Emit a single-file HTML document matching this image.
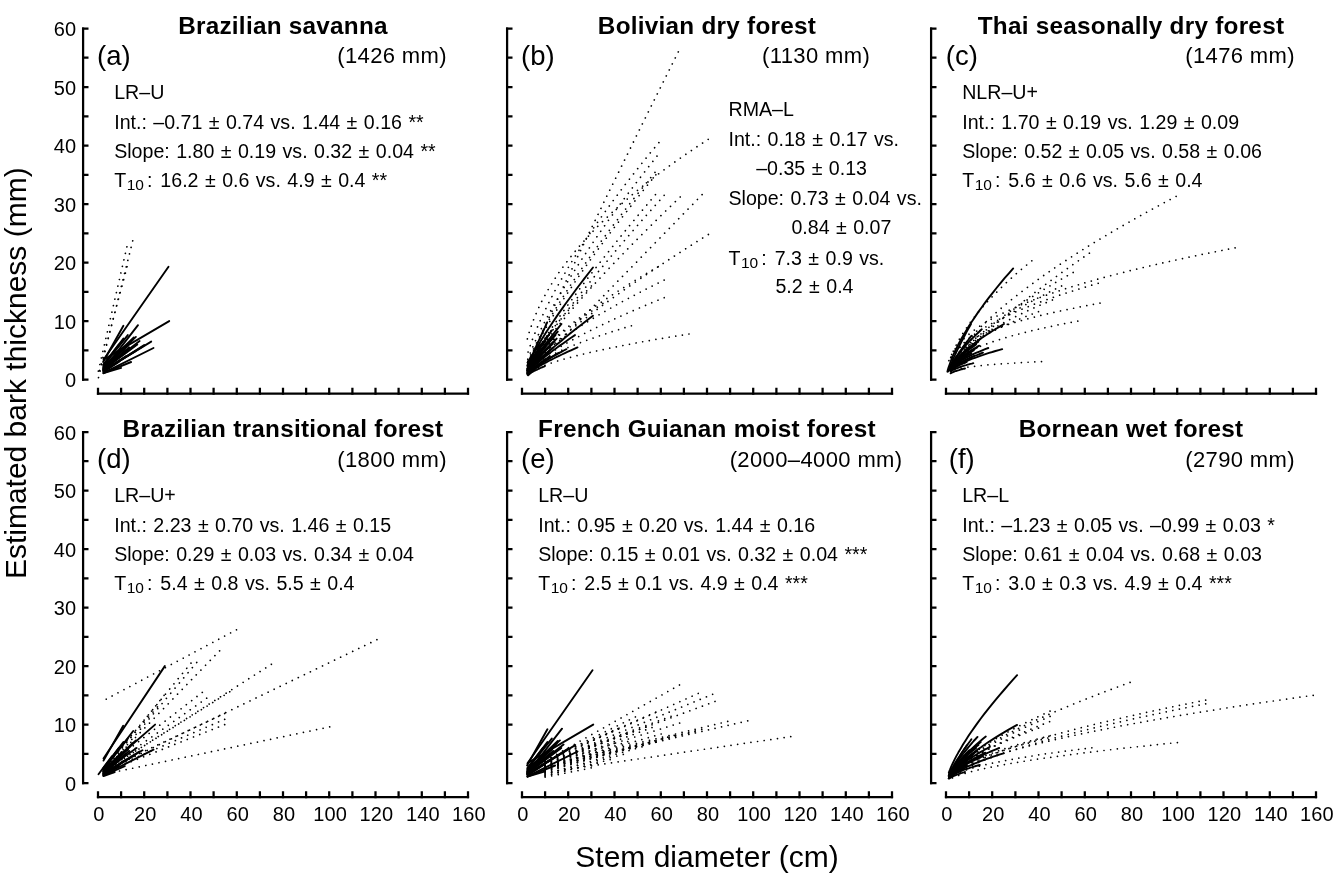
<!DOCTYPE html>
<html><head><meta charset="utf-8"><title>Bark thickness</title>
<style>html,body{margin:0;padding:0;background:#fff}svg{display:block;filter:grayscale(1)}text{font-family:"Liberation Sans", sans-serif;fill:#000}.tk{font-size:20px;letter-spacing:0.15px}.ti{font-size:24.3px;font-weight:bold;letter-spacing:0.26px}.pl{font-size:27.5px}.rf{font-size:22px;letter-spacing:0.38px}.an{font-size:19.6px;word-spacing:1.0px}.sub{font-size:15.5px}.ax{font-size:30px}</style></head><body>
<svg width="1336" height="875" viewBox="0 0 1336 875">
<rect width="1336" height="875" fill="#fff"/>
<g fill="none" stroke="#000" stroke-width="1.7" stroke-linecap="round" stroke-dasharray="0.01 6.7">
<polyline points="132.7,240.9 98.0,379.6"/>
<polyline points="126.9,246.8 98.0,372.6"/>
<polyline points="127.1,266.7 98.5,374.3"/>
</g>
<g fill="none" stroke="#000" stroke-width="1.9" stroke-linecap="round" stroke-linejoin="round">
<polyline points="103.5,359.7 168.5,266.7"/>
<polyline points="104.0,359.4 169.2,321.1"/>
<polyline points="103.1,362.0 123.4,325.8"/>
<polyline points="103.5,369.7 138.0,325.2"/>
<polyline points="103.5,366.7 135.9,336.9"/>
<polyline points="103.5,370.8 151.2,341.6"/>
<polyline points="103.5,372.9 153.5,348.0"/>
<polyline points="103.5,370.2 142.4,346.8"/>
<polyline points="103.5,367.9 136.6,344.5"/>
<polyline points="103.5,373.2 131.1,362.0"/>
<polyline points="103.5,373.2 121.1,367.9"/>
<polyline points="103.5,365.6 127.8,335.1"/>
<polyline points="103.5,366.1 133.8,337.5"/>
<polyline points="103.5,368.5 130.4,342.7"/>
<polyline points="103.5,367.3 128.1,345.7"/>
<polyline points="103.5,369.7 125.8,350.3"/>
<polyline points="103.5,368.5 121.1,349.2"/>
<polyline points="103.5,365.0 118.8,344.5"/>
<polyline points="103.5,371.4 125.8,356.2"/>
<polyline points="103.5,372.0 118.8,362.0"/>
<polyline points="103.5,367.9 132.7,339.8"/>
<polyline points="103.5,369.1 129.2,347.4"/>
<polyline points="103.5,370.2 123.4,353.3"/>
<polyline points="103.5,364.4 123.4,338.6"/>
<polyline points="103.5,370.8 135.0,351.5"/>
<polyline points="103.5,369.1 139.6,341.0"/>
<polyline points="103.5,369.7 137.3,344.5"/>
<polyline points="103.5,371.1 144.2,345.1"/>
</g>
<g stroke="#000" stroke-width="2.25" fill="none" stroke-linecap="butt">
<path d="M83.1 27.4 V380.7"/>
<path d="M82.0 379.6 h6.5 M82.0 350.3 h6.5 M82.0 321.1 h6.5 M82.0 291.8 h6.5 M82.0 262.6 h6.5 M82.0 233.3 h6.5 M82.0 204.0 h6.5 M82.0 174.8 h6.5 M82.0 145.5 h6.5 M82.0 116.3 h6.5 M82.0 87.0 h6.5 M82.0 57.7 h6.5 M82.0 28.5 h6.5"/>
<path d="M96.9 393.6 H469.1"/>
<path d="M98.0 394.7 v-6.9 M121.1 394.7 v-6.9 M144.2 394.7 v-6.9 M167.4 394.7 v-6.9 M190.5 394.7 v-6.9 M213.6 394.7 v-6.9 M236.8 394.7 v-6.9 M259.9 394.7 v-6.9 M283.0 394.7 v-6.9 M306.1 394.7 v-6.9 M329.2 394.7 v-6.9 M352.4 394.7 v-6.9 M375.5 394.7 v-6.9 M398.6 394.7 v-6.9 M421.8 394.7 v-6.9 M444.9 394.7 v-6.9 M468.0 394.7 v-6.9"/>
</g>
<text x="76.4" y="387.2" text-anchor="end" class="tk">0</text>
<text x="76.4" y="328.7" text-anchor="end" class="tk">10</text>
<text x="76.4" y="270.2" text-anchor="end" class="tk">20</text>
<text x="76.4" y="211.6" text-anchor="end" class="tk">30</text>
<text x="76.4" y="153.1" text-anchor="end" class="tk">40</text>
<text x="76.4" y="94.6" text-anchor="end" class="tk">50</text>
<text x="76.4" y="36.1" text-anchor="end" class="tk">60</text>
<text x="283.0" y="33.6" text-anchor="middle" class="ti">Brazilian savanna</text>
<text x="113.8" y="65.2" text-anchor="middle" class="pl">(a)</text>
<text x="392.1" y="63.3" text-anchor="middle" class="rf">(1426 mm)</text>
<text x="114.2" y="98.9" class="an">LR–U</text>
<text x="114.2" y="128.5" class="an">Int.: –0.71 ± 0.74 vs. 1.44 ± 0.16 **</text>
<text x="114.2" y="157.7" class="an">Slope: 1.80 ± 0.19 vs. 0.32 ± 0.04 **</text>
<text x="114.2" y="186.7" class="an">T<tspan class="sub" dx="0.5" dy="3.2">10</tspan><tspan dy="-3.2" dx="3.0">:</tspan><tspan dx="8.0">16.2 ± 0.6 vs. 4.9 ± 0.4 **</tspan></text>
<g fill="none" stroke="#000" stroke-width="1.7" stroke-linecap="round" stroke-dasharray="0.01 6.7">
<polyline points="678.3,51.9 668.4,71.7 658.7,91.1 649.3,110.0 640.1,128.5 631.2,146.5 622.6,164.0 614.3,181.0 606.2,197.4 598.5,213.4 591.1,228.8 583.9,243.6 577.1,257.8 570.7,271.5 564.5,284.4 558.8,296.8 553.4,308.4 548.3,319.2 543.8,329.3 539.6,338.5 535.9,346.7 532.7,353.9 530.2,359.8 528.3,364.2 527.3,366.4"/>
<polyline points="708.2,139.4 696.3,147.2 684.7,155.1 673.4,163.0 662.4,171.0 651.8,179.0 641.4,187.2 631.5,195.4 621.8,203.7 612.6,212.0 603.7,220.5 595.1,229.0 587.0,237.7 579.2,246.4 571.9,255.3 565.0,264.2 558.5,273.2 552.5,282.4 547.0,291.6 542.0,300.8 537.6,310.0 533.8,319.1 530.7,327.6 528.4,334.9 527.3,339.0"/>
<polyline points="658.9,142.6 650.2,153.0 641.8,163.4 633.6,173.8 625.6,184.0 617.9,194.3 610.4,204.4 603.1,214.5 596.1,224.4 589.3,234.3 582.9,244.1 576.7,253.8 570.7,263.4 565.1,272.9 559.7,282.2 554.7,291.3 550.0,300.3 545.6,309.1 541.6,317.5 538.0,325.7 534.8,333.4 532.0,340.5 529.8,346.8 528.1,351.8 527.3,354.4"/>
<polyline points="657.0,156.1 648.5,166.9 640.2,177.6 632.1,188.2 624.2,198.7 616.6,209.1 609.2,219.3 602.0,229.4 595.1,239.4 588.5,249.2 582.1,258.8 576.0,268.3 570.1,277.6 564.6,286.7 559.3,295.5 554.3,304.2 549.7,312.6 545.4,320.6 541.4,328.4 537.9,335.7 534.7,342.5 532.0,348.7 529.8,354.1 528.1,358.3 527.3,360.5"/>
<polyline points="655.0,172.4 646.6,182.7 638.4,192.9 630.4,202.9 622.7,212.9 615.2,222.6 607.9,232.3 600.8,241.8 594.0,251.2 587.5,260.4 581.2,269.4 575.2,278.2 569.4,286.9 564.0,295.4 558.8,303.6 553.9,311.6 549.3,319.3 545.1,326.7 541.2,333.8 537.7,340.5 534.6,346.7 531.9,352.3 529.7,357.1 528.1,360.9 527.3,362.8"/>
<polyline points="655.9,174.8 647.4,185.2 639.2,195.5 631.2,205.7 623.4,215.7 615.8,225.5 608.5,235.2 601.4,244.8 594.5,254.2 587.9,263.4 581.6,272.4 575.5,281.2 569.7,289.9 564.2,298.2 559.0,306.4 554.1,314.3 549.5,321.9 545.2,329.2 541.3,336.1 537.8,342.6 534.6,348.6 531.9,354.0 529.7,358.7 528.1,362.3 527.3,364.1"/>
<polyline points="655.4,194.7 647.0,204.7 638.8,214.5 630.8,224.1 623.0,233.6 615.5,242.9 608.2,252.1 601.1,261.0 594.3,269.8 587.7,278.3 581.4,286.6 575.4,294.8 569.6,302.6 564.1,310.2 558.9,317.6 554.0,324.7 549.4,331.4 545.2,337.9 541.3,343.9 537.7,349.6 534.6,354.7 531.9,359.3 529.7,363.2 528.1,366.1 527.3,367.6"/>
<polyline points="664.2,195.3 655.2,205.4 646.4,215.3 637.9,225.0 629.6,234.6 621.5,244.0 613.7,253.2 606.2,262.2 598.9,271.0 591.9,279.6 585.1,287.9 578.6,296.1 572.5,304.0 566.6,311.6 561.1,318.9 555.8,326.0 550.9,332.7 546.4,339.1 542.2,345.2 538.4,350.8 535.1,355.9 532.2,360.4 529.9,364.3 528.2,367.2 527.3,368.7"/>
<polyline points="680.2,197.0 670.1,206.7 660.3,216.3 650.8,225.7 641.5,234.9 632.5,244.0 623.8,253.0 615.4,261.7 607.2,270.3 599.4,278.7 591.8,287.0 584.6,295.0 577.7,302.8 571.2,310.3 565.0,317.7 559.1,324.8 553.7,331.5 548.6,338.0 544.0,344.2 539.7,349.9 536.0,355.2 532.8,359.9 530.2,364.0 528.3,367.1 527.3,368.7"/>
<polyline points="702.1,194.7 690.6,206.5 679.4,218.0 668.5,229.2 657.9,240.1 647.6,250.6 637.7,260.9 628.0,270.8 618.7,280.3 609.7,289.5 601.1,298.4 592.9,306.9 585.0,314.9 577.5,322.6 570.4,329.9 563.7,336.8 557.5,343.2 551.7,349.1 546.3,354.6 541.5,359.6 537.3,363.9 533.6,367.7 530.6,370.8 528.4,373.0 527.3,374.1"/>
<polyline points="708.4,234.5 696.5,241.9 684.9,249.3 673.6,256.6 662.6,263.8 651.9,270.9 641.6,277.8 631.6,284.7 622.0,291.4 612.7,298.0 603.8,304.5 595.2,310.9 587.0,317.1 579.3,323.1 571.9,329.0 565.0,334.7 558.5,340.2 552.5,345.5 547.0,350.5 542.0,355.2 537.6,359.6 533.8,363.6 530.7,367.1 528.4,369.8 527.3,371.2"/>
<polyline points="658.2,266.7 649.6,271.7 641.2,276.7 633.0,281.7 625.1,286.7 617.4,291.6 609.9,296.5 602.7,301.3 595.7,306.1 589.0,310.8 582.6,315.6 576.4,320.2 570.5,324.8 564.9,329.3 559.6,333.8 554.6,338.1 549.9,342.4 545.5,346.5 541.6,350.6 538.0,354.4 534.8,358.1 532.0,361.4 529.8,364.4 528.1,366.7 527.3,367.9"/>
<polyline points="664.2,280.1 655.2,284.6 646.4,289.0 637.9,293.4 629.6,297.8 621.5,302.1 613.7,306.4 606.2,310.7 598.9,314.9 591.9,319.1 585.1,323.3 578.6,327.4 572.5,331.4 566.6,335.4 561.1,339.3 555.8,343.2 550.9,347.0 546.4,350.7 542.2,354.2 538.4,357.6 535.1,360.9 532.2,363.8 529.9,366.5 528.2,368.5 527.3,369.6"/>
<polyline points="664.2,297.7 655.2,301.3 646.4,305.0 637.9,308.6 629.6,312.2 621.5,315.8 613.7,319.3 606.2,322.9 598.9,326.3 591.9,329.8 585.1,333.2 578.6,336.6 572.5,339.9 566.6,343.2 561.1,346.4 555.8,349.6 550.9,352.7 546.4,355.8 542.2,358.7 538.4,361.5 535.1,364.2 532.2,366.6 529.9,368.8 528.2,370.5 527.3,371.4"/>
<polyline points="631.4,325.8 624.5,327.8 617.9,329.9 611.4,331.9 605.1,334.0 598.9,336.0 593.0,338.1 587.3,340.1 581.7,342.2 576.4,344.2 571.2,346.2 566.3,348.3 561.6,350.3 557.2,352.3 553.0,354.4 549.0,356.4 545.3,358.3 541.8,360.3 538.6,362.2 535.8,364.1 533.2,365.9 531.1,367.5 529.3,369.0 528.0,370.2 527.3,370.8"/>
<polyline points="689.0,334.0 678.3,335.7 668.0,337.4 657.9,339.1 648.1,340.8 638.5,342.5 629.3,344.3 620.4,346.0 611.8,347.7 603.5,349.5 595.6,351.2 587.9,353.0 580.6,354.7 573.7,356.5 567.1,358.2 561.0,360.0 555.2,361.7 549.8,363.5 544.9,365.2 540.5,366.9 536.5,368.5 533.1,370.1 530.4,371.6 528.3,372.8 527.3,373.4"/>
<polyline points="591.4,286.0 587.2,290.3 583.1,294.5 579.1,298.7 575.2,302.9 571.4,307.0 567.7,311.1 564.2,315.1 560.8,319.0 557.5,322.9 554.4,326.8 551.3,330.5 548.4,334.2 545.7,337.8 543.1,341.2 540.7,344.6 538.4,347.9 536.2,351.0 534.3,354.0 532.5,356.8 531.0,359.4 529.6,361.7 528.5,363.7 527.7,365.2 527.3,366.0"/>
<polyline points="602.9,303.5 598.0,306.8 593.1,310.1 588.4,313.4 583.8,316.6 579.4,319.8 575.0,323.0 570.9,326.2 566.8,329.3 563.0,332.4 559.2,335.4 555.7,338.4 552.3,341.4 549.0,344.3 546.0,347.2 543.1,350.0 540.4,352.7 537.8,355.3 535.5,357.8 533.5,360.2 531.6,362.5 530.0,364.5 528.7,366.2 527.8,367.6 527.3,368.3"/>
</g>
<g fill="none" stroke="#000" stroke-width="1.9" stroke-linecap="round" stroke-linejoin="round">
<polyline points="527.5,365.0 528.0,364.2 528.8,362.5 529.9,360.3 531.3,357.6 532.9,354.6 534.7,351.4 536.7,347.9 538.8,344.2 541.2,340.3 543.7,336.2 546.3,332.0 549.1,327.7 552.1,323.2 555.2,318.6 558.4,313.9 561.8,309.1 565.2,304.2 568.9,299.2 572.6,294.2 576.4,289.0 580.4,283.7 584.5,278.4 588.7,273.0 593.0,267.5"/>
<polyline points="527.5,372.1 528.0,371.6 528.8,370.7 529.9,369.5 531.3,368.1 532.9,366.4 534.7,364.6 536.7,362.6 538.8,360.6 541.2,358.4 543.7,356.1 546.3,353.7 549.1,351.2 552.1,348.6 555.2,345.9 558.4,343.2 561.8,340.4 565.2,337.5 568.9,334.6 572.6,331.6 576.4,328.6 580.4,325.5 584.5,322.3 588.7,319.1 593.0,315.8"/>
<polyline points="527.5,372.3 527.8,372.0 528.4,371.4 529.3,370.5 530.2,369.6 531.4,368.4 532.7,367.2 534.2,365.9 535.7,364.5 537.4,363.0 539.2,361.5 541.2,359.9 543.2,358.2 545.3,356.5 547.6,354.8 549.9,353.0 552.3,351.1 554.9,349.2 557.5,347.3 560.2,345.4 563.0,343.4 565.8,341.4 568.8,339.3 571.8,337.2 575.0,335.1"/>
<polyline points="527.5,373.9 527.9,373.6 528.5,373.2 529.3,372.5 530.4,371.8 531.6,371.0 533.0,370.0 534.5,369.1 536.2,368.0 537.9,367.0 539.9,365.8 541.9,364.7 544.0,363.5 546.3,362.3 548.6,361.0 551.1,359.8 553.7,358.5 556.3,357.2 559.1,355.8 561.9,354.5 564.9,353.1 567.9,351.7 571.0,350.3 574.2,348.9 577.5,347.4"/>
<polyline points="527.5,373.2 527.8,373.0 528.3,372.6 528.9,372.0 529.8,371.4 530.7,370.6 531.8,369.8 533.0,368.9 534.2,368.0 535.6,367.0 537.1,366.0 538.7,365.0 540.4,363.9 542.1,362.8 544.0,361.7 545.9,360.5 547.9,359.3 549.9,358.1 552.1,356.9 554.3,355.6 556.6,354.4 558.9,353.1 561.4,351.8 563.8,350.5 566.4,349.2"/>
<polyline points="527.5,369.1 527.8,368.8 528.2,368.1 528.8,367.2 529.5,366.1 530.3,364.8 531.2,363.4 532.3,361.9 533.4,360.3 534.6,358.5 535.9,356.7 537.3,354.8 538.8,352.8 540.3,350.7 541.9,348.6 543.6,346.4 545.3,344.1 547.1,341.8 549.0,339.4 550.9,337.0 552.9,334.5 555.0,331.9 557.1,329.3 559.3,326.7 561.5,324.0"/>
<polyline points="527.5,366.0 527.7,365.7 527.9,365.1 528.3,364.3 528.7,363.4 529.1,362.3 529.7,361.0 530.3,359.7 530.9,358.2 531.6,356.6 532.4,354.9 533.2,353.1 534.0,351.2 534.9,349.2 535.8,347.1 536.8,345.0 537.8,342.7 538.9,340.4 540.0,338.0 541.1,335.6 542.2,333.1 543.4,330.5 544.7,327.8 545.9,325.1 547.2,322.3"/>
<polyline points="527.5,368.8 527.7,368.5 528.1,367.9 528.6,367.1 529.3,366.2 530.0,365.1 530.8,363.9 531.8,362.6 532.8,361.3 533.9,359.8 535.0,358.3 536.2,356.7 537.5,355.0 538.9,353.3 540.3,351.5 541.8,349.7 543.4,347.9 545.0,346.0 546.7,344.0 548.4,342.0 550.2,340.0 552.0,338.0 553.9,335.9 555.8,333.8 557.8,331.6"/>
<polyline points="527.5,368.8 527.7,368.5 528.0,368.0 528.4,367.3 528.9,366.4 529.5,365.4 530.2,364.2 530.9,363.0 531.7,361.7 532.6,360.2 533.5,358.7 534.5,357.1 535.6,355.4 536.7,353.7 537.8,351.9 539.0,350.0 540.2,348.0 541.5,346.0 542.9,344.0 544.3,341.8 545.7,339.7 547.2,337.4 548.7,335.1 550.2,332.8 551.8,330.4"/>
<polyline points="527.5,374.6 527.7,374.5 527.9,374.4 528.2,374.2 528.5,374.0 529.0,373.8 529.4,373.5 530.0,373.2 530.5,372.9 531.2,372.5 531.8,372.2 532.5,371.8 533.3,371.4 534.1,371.0 534.9,370.6 535.7,370.2 536.6,369.8 537.5,369.3 538.5,368.9 539.5,368.5 540.5,368.0 541.6,367.5 542.6,367.1 543.8,366.6 544.9,366.1"/>
<polyline points="527.5,370.3 527.7,370.1 528.1,369.7 528.5,369.1 529.1,368.3 529.7,367.5 530.5,366.6 531.3,365.6 532.2,364.5 533.1,363.4 534.2,362.2 535.2,361.0 536.4,359.7 537.6,358.4 538.9,357.0 540.2,355.6 541.6,354.2 543.0,352.7 544.5,351.2 546.0,349.7 547.6,348.1 549.2,346.5 550.9,344.9 552.6,343.2 554.4,341.6"/>
<polyline points="527.5,370.5 527.7,370.3 528.0,369.9 528.4,369.4 528.9,368.7 529.5,368.0 530.2,367.2 531.0,366.3 531.8,365.3 532.7,364.3 533.6,363.2 534.6,362.1 535.6,360.9 536.7,359.7 537.9,358.5 539.1,357.2 540.4,355.9 541.7,354.6 543.0,353.2 544.4,351.8 545.9,350.4 547.3,349.0 548.9,347.5 550.4,346.0 552.1,344.5"/>
<polyline points="527.5,371.5 527.7,371.4 528.0,371.0 528.3,370.6 528.8,370.1 529.4,369.5 530.0,368.8 530.6,368.1 531.4,367.3 532.2,366.5 533.0,365.6 533.9,364.7 534.9,363.8 535.9,362.8 536.9,361.8 538.0,360.8 539.2,359.7 540.3,358.6 541.6,357.5 542.8,356.3 544.1,355.2 545.5,354.0 546.9,352.8 548.3,351.6 549.8,350.3"/>
<polyline points="527.5,369.9 527.7,369.7 527.9,369.4 528.2,368.9 528.5,368.4 529.0,367.8 529.5,367.1 530.0,366.3 530.6,365.5 531.2,364.6 531.9,363.7 532.6,362.7 533.3,361.7 534.1,360.7 535.0,359.6 535.8,358.4 536.7,357.3 537.7,356.1 538.6,354.8 539.6,353.6 540.7,352.3 541.7,350.9 542.8,349.6 544.0,348.2 545.1,346.8"/>
<polyline points="527.5,368.2 527.6,368.0 527.8,367.7 528.1,367.2 528.4,366.6 528.8,365.9 529.2,365.2 529.7,364.3 530.2,363.4 530.7,362.5 531.3,361.4 531.9,360.4 532.6,359.2 533.3,358.0 534.0,356.8 534.7,355.5 535.5,354.2 536.3,352.8 537.2,351.4 538.1,350.0 539.0,348.5 539.9,346.9 540.8,345.4 541.8,343.8 542.8,342.1"/>
<polyline points="527.5,373.1 527.7,373.0 528.0,372.8 528.3,372.4 528.8,372.0 529.4,371.5 530.0,371.0 530.6,370.4 531.4,369.8 532.2,369.1 533.0,368.4 533.9,367.7 534.9,366.9 535.9,366.2 536.9,365.4 538.0,364.5 539.2,363.7 540.3,362.8 541.6,361.9 542.8,361.0 544.1,360.1 545.5,359.1 546.9,358.2 548.3,357.2 549.8,356.2"/>
<polyline points="527.5,373.5 527.6,373.4 527.8,373.3 528.1,373.0 528.4,372.7 528.8,372.4 529.2,372.1 529.7,371.7 530.2,371.3 530.7,370.8 531.3,370.4 531.9,369.9 532.6,369.4 533.3,368.9 534.0,368.3 534.7,367.7 535.5,367.2 536.3,366.6 537.2,366.0 538.1,365.3 539.0,364.7 539.9,364.1 540.8,363.4 541.8,362.7 542.8,362.0"/>
<polyline points="527.5,370.1 527.7,369.9 528.1,369.4 528.6,368.7 529.2,367.9 529.9,367.0 530.7,366.0 531.6,364.9 532.6,363.8 533.6,362.5 534.7,361.2 535.9,359.9 537.2,358.5 538.5,357.0 539.9,355.5 541.3,354.0 542.8,352.4 544.3,350.8 545.9,349.2 547.6,347.5 549.3,345.8 551.1,344.0 552.9,342.3 554.8,340.5 556.7,338.6"/>
<polyline points="527.5,371.5 527.7,371.3 528.0,371.0 528.5,370.5 529.0,369.9 529.6,369.2 530.3,368.4 531.1,367.6 532.0,366.7 532.9,365.7 533.9,364.7 534.9,363.7 536.0,362.6 537.2,361.5 538.4,360.4 539.7,359.2 541.0,358.0 542.3,356.8 543.7,355.5 545.2,354.2 546.7,352.9 548.3,351.6 549.9,350.2 551.5,348.8 553.2,347.4"/>
<polyline points="527.5,372.4 527.7,372.2 527.9,372.0 528.3,371.6 528.7,371.1 529.2,370.6 529.7,370.0 530.3,369.4 531.0,368.7 531.7,368.0 532.5,367.2 533.3,366.4 534.1,365.6 535.0,364.7 535.9,363.8 536.9,362.9 537.9,361.9 539.0,360.9 540.1,359.9 541.2,358.8 542.4,357.8 543.6,356.7 544.9,355.6 546.1,354.4 547.4,353.3"/>
<polyline points="527.5,368.4 527.7,368.2 527.9,367.8 528.3,367.2 528.7,366.4 529.2,365.6 529.7,364.6 530.3,363.5 531.0,362.4 531.7,361.2 532.5,359.9 533.3,358.5 534.1,357.1 535.0,355.6 535.9,354.0 536.9,352.4 537.9,350.8 539.0,349.1 540.1,347.3 541.2,345.5 542.4,343.6 543.6,341.7 544.9,339.7 546.1,337.7 547.4,335.7"/>
<polyline points="527.5,373.7 527.7,373.5 528.1,373.2 528.7,372.8 529.3,372.2 530.1,371.6 531.0,370.9 531.9,370.2 533.0,369.4 534.1,368.6 535.3,367.7 536.6,366.8 537.9,365.9 539.3,364.9 540.8,363.9 542.4,362.9 544.0,361.8 545.7,360.8 547.4,359.7 549.2,358.6 551.0,357.4 552.9,356.3 554.9,355.1 556.9,353.9 559.0,352.7"/>
<polyline points="527.5,370.0 527.7,369.7 528.1,369.2 528.6,368.5 529.1,367.7 529.8,366.7 530.6,365.6 531.4,364.4 532.4,363.2 533.4,361.9 534.4,360.4 535.6,359.0 536.8,357.4 538.0,355.8 539.4,354.2 540.7,352.5 542.2,350.7 543.7,348.9 545.2,347.1 546.8,345.2 548.5,343.2 550.1,341.3 551.9,339.3 553.7,337.2 555.5,335.1"/>
<polyline points="527.5,369.9 527.7,369.6 528.0,369.2 528.4,368.6 528.9,367.8 529.5,367.0 530.2,366.0 531.0,365.0 531.8,363.8 532.7,362.6 533.6,361.4 534.6,360.1 535.6,358.7 536.7,357.2 537.9,355.8 539.1,354.2 540.4,352.7 541.7,351.0 543.0,349.4 544.4,347.7 545.9,345.9 547.3,344.2 548.9,342.4 550.4,340.5 552.1,338.6"/>
<polyline points="528.0,372.8 528.1,372.7 528.2,372.5 528.5,372.2 528.7,371.9 529.0,371.5 529.4,371.1 529.8,370.6 530.2,370.1 530.6,369.5 531.1,368.9 531.6,368.2 532.1,367.5 532.7,366.8 533.3,366.0 533.9,365.2 534.5,364.3 535.2,363.4 535.9,362.5 536.6,361.6 537.3,360.5 538.1,359.5 538.9,358.4 539.7,357.3 540.5,356.2"/>
<polyline points="528.0,375.3 528.1,375.3 528.2,375.2 528.4,375.0 528.6,374.8 528.8,374.6 529.1,374.4 529.4,374.1 529.8,373.8 530.1,373.5 530.5,373.1 530.9,372.7 531.4,372.3 531.8,371.9 532.3,371.4 532.8,370.9 533.3,370.4 533.9,369.9 534.4,369.4 535.0,368.8 535.6,368.2 536.2,367.6 536.9,366.9 537.5,366.2 538.2,365.6"/>
<polyline points="527.5,365.6 527.7,365.4 527.9,365.0 528.2,364.5 528.5,363.9 529.0,363.2 529.5,362.4 530.0,361.5 530.6,360.6 531.2,359.6 531.9,358.6 532.6,357.6 533.3,356.5 534.1,355.4 535.0,354.2 535.8,353.1 536.7,351.9 537.7,350.6 538.6,349.4 539.6,348.1 540.7,346.8 541.7,345.5 542.8,344.2 544.0,342.9 545.1,341.6"/>
<polyline points="527.5,362.5 527.6,362.4 527.8,362.1 528.0,361.7 528.3,361.2 528.6,360.7 529.0,360.1 529.4,359.4 529.8,358.7 530.2,358.0 530.7,357.2 531.3,356.4 531.8,355.6 532.4,354.7 533.0,353.9 533.7,353.0 534.3,352.1 535.0,351.2 535.7,350.2 536.5,349.3 537.2,348.4 538.0,347.4 538.8,346.4 539.6,345.5 540.5,344.5"/>
</g>
<g stroke="#000" stroke-width="2.25" fill="none" stroke-linecap="butt">
<path d="M507.1 27.4 V380.7"/>
<path d="M506.0 379.6 h6.5 M506.0 350.3 h6.5 M506.0 321.1 h6.5 M506.0 291.8 h6.5 M506.0 262.6 h6.5 M506.0 233.3 h6.5 M506.0 204.0 h6.5 M506.0 174.8 h6.5 M506.0 145.5 h6.5 M506.0 116.3 h6.5 M506.0 87.0 h6.5 M506.0 57.7 h6.5 M506.0 28.5 h6.5"/>
<path d="M520.9 393.6 H893.1"/>
<path d="M522.0 394.7 v-6.9 M545.1 394.7 v-6.9 M568.2 394.7 v-6.9 M591.4 394.7 v-6.9 M614.5 394.7 v-6.9 M637.6 394.7 v-6.9 M660.8 394.7 v-6.9 M683.9 394.7 v-6.9 M707.0 394.7 v-6.9 M730.1 394.7 v-6.9 M753.2 394.7 v-6.9 M776.4 394.7 v-6.9 M799.5 394.7 v-6.9 M822.6 394.7 v-6.9 M845.8 394.7 v-6.9 M868.9 394.7 v-6.9 M892.0 394.7 v-6.9"/>
</g>
<text x="707.0" y="33.6" text-anchor="middle" class="ti">Bolivian dry forest</text>
<text x="537.8" y="65.2" text-anchor="middle" class="pl">(b)</text>
<text x="816.1" y="63.3" text-anchor="middle" class="rf">(1130 mm)</text>
<text x="728.5" y="116.3" class="an">RMA–L</text>
<text x="728.5" y="145.8" class="an">Int.: 0.18 ± 0.17 vs.</text>
<text x="756.2" y="175.2" class="an">–0.35 ± 0.13</text>
<text x="728.5" y="204.9" class="an">Slope: 0.73 ± 0.04 vs.</text>
<text x="791.4" y="233.7" class="an">0.84 ± 0.07</text>
<text x="728.5" y="265.1" class="an">T<tspan class="sub" dx="0.5" dy="3.2">10</tspan><tspan dy="-3.2" dx="3.0">:</tspan><tspan dx="8.0">7.3 ± 0.9 vs.</tspan></text>
<text x="775.4" y="292.9" class="an">5.2 ± 0.4</text>
<g fill="none" stroke="#000" stroke-width="1.7" stroke-linecap="round" stroke-dasharray="0.01 6.7">
<polyline points="1176.1,196.4 1161.1,204.4 1146.6,212.3 1132.4,220.2 1118.6,228.1 1105.2,236.0 1092.2,243.8 1079.7,251.6 1067.6,259.4 1055.9,267.1 1044.7,274.8 1034.0,282.5 1023.8,290.1 1014.0,297.7 1004.8,305.2 996.1,312.6 988.0,320.0 980.4,327.3 973.5,334.5 967.3,341.6 961.7,348.5 956.9,355.1 953.0,361.3 950.2,366.6 948.8,369.7"/>
<polyline points="1235.1,247.9 1216.2,251.6 1197.9,255.3 1180.0,259.1 1162.6,263.0 1145.8,266.9 1129.5,270.8 1113.7,274.9 1098.4,279.0 1083.7,283.2 1069.6,287.4 1056.1,291.8 1043.2,296.3 1030.9,300.9 1019.3,305.6 1008.4,310.5 998.1,315.5 988.6,320.7 979.9,326.1 972.0,331.7 965.1,337.6 959.1,343.8 954.1,350.2 950.5,356.6 948.8,360.9"/>
<polyline points="1031.8,260.8 1026.3,265.3 1021.0,269.7 1015.8,274.2 1010.8,278.7 1005.9,283.1 1001.2,287.6 996.6,292.2 992.2,296.7 987.9,301.2 983.8,305.7 979.9,310.3 976.2,314.8 972.6,319.4 969.2,323.9 966.1,328.5 963.1,333.0 960.3,337.5 957.8,342.0 955.5,346.4 953.5,350.7 951.8,354.8 950.3,358.6 949.3,361.7 948.8,363.4"/>
<polyline points="1100.0,303.2 1090.1,305.0 1080.4,306.9 1070.9,308.8 1061.7,310.7 1052.8,312.7 1044.2,314.6 1035.9,316.7 1027.8,318.8 1020.1,320.9 1012.6,323.1 1005.5,325.4 998.7,327.7 992.2,330.1 986.0,332.6 980.3,335.1 974.9,337.8 969.8,340.6 965.2,343.5 961.1,346.5 957.4,349.7 954.2,353.0 951.6,356.4 949.7,359.6 948.8,361.6"/>
<polyline points="1077.8,321.1 1069.3,322.7 1061.0,324.3 1053.0,326.0 1045.2,327.7 1037.6,329.4 1030.2,331.1 1023.1,332.9 1016.2,334.7 1009.6,336.5 1003.2,338.4 997.2,340.3 991.3,342.2 985.8,344.2 980.6,346.2 975.6,348.3 971.0,350.5 966.7,352.7 962.8,355.0 959.3,357.3 956.1,359.7 953.4,362.1 951.2,364.6 949.6,366.7 948.8,368.0"/>
<polyline points="1041.5,361.6 1035.4,361.9 1029.5,362.2 1023.8,362.5 1018.2,362.8 1012.8,363.2 1007.6,363.5 1002.5,363.8 997.6,364.2 992.9,364.6 988.3,364.9 984.0,365.3 979.8,365.7 975.9,366.2 972.1,366.6 968.6,367.1 965.3,367.5 962.3,368.1 959.5,368.6 957.0,369.1 954.7,369.7 952.8,370.3 951.2,370.9 950.0,371.5 949.5,371.8"/>
<polyline points="1089.4,253.2 1080.1,259.6 1071.1,265.9 1062.3,272.2 1053.8,278.4 1045.5,284.5 1037.5,290.5 1029.8,296.5 1022.3,302.3 1015.1,308.1 1008.1,313.8 1001.5,319.3 995.2,324.8 989.1,330.1 983.4,335.3 978.0,340.3 973.0,345.2 968.4,349.9 964.1,354.5 960.2,358.8 956.8,362.8 953.8,366.5 951.4,369.8 949.6,372.4 948.8,373.8"/>
<polyline points="1098.2,283.3 1088.3,286.2 1078.7,289.1 1069.4,292.0 1060.4,294.9 1051.6,297.9 1043.1,301.0 1034.8,304.0 1026.9,307.2 1019.2,310.3 1011.8,313.6 1004.8,316.9 998.1,320.2 991.7,323.6 985.6,327.1 979.9,330.6 974.5,334.3 969.6,338.0 965.0,341.8 960.9,345.7 957.3,349.8 954.1,353.8 951.6,357.9 949.7,361.5 948.8,363.7"/>
<polyline points="1073.2,272.5 1065.0,277.1 1057.0,281.7 1049.3,286.3 1041.7,290.8 1034.4,295.4 1027.3,299.9 1020.4,304.4 1013.8,308.9 1007.4,313.4 1001.3,317.8 995.4,322.2 989.8,326.6 984.5,330.9 979.4,335.3 974.7,339.5 970.2,343.8 966.1,347.9 962.3,352.0 958.9,356.0 955.9,359.8 953.2,363.4 951.1,366.8 949.5,369.5 948.8,371.0"/>
<polyline points="1061.6,286.0 1054.2,289.6 1047.0,293.3 1039.9,297.0 1033.1,300.6 1026.4,304.3 1020.0,308.0 1013.8,311.6 1007.8,315.3 1002.0,319.0 996.4,322.7 991.1,326.4 986.0,330.1 981.2,333.8 976.6,337.4 972.3,341.1 968.2,344.8 964.5,348.4 961.1,352.0 957.9,355.6 955.2,359.1 952.8,362.5 950.9,365.6 949.5,368.2 948.8,369.6"/>
<polyline points="1052.4,300.0 1045.6,302.9 1038.9,305.7 1032.4,308.6 1026.2,311.5 1020.1,314.4 1014.2,317.3 1008.4,320.2 1002.9,323.2 997.6,326.1 992.5,329.1 987.6,332.1 983.0,335.1 978.5,338.1 974.3,341.2 970.3,344.2 966.6,347.3 963.2,350.4 960.0,353.5 957.2,356.5 954.7,359.6 952.5,362.5 950.7,365.3 949.4,367.6 948.8,368.9"/>
<polyline points="1038.5,311.7 1032.6,313.9 1026.8,316.1 1021.2,318.4 1015.8,320.6 1010.5,322.9 1005.4,325.2 1000.5,327.5 995.7,329.9 991.1,332.2 986.7,334.6 982.4,337.0 978.4,339.4 974.5,341.9 970.9,344.4 967.5,346.9 964.2,349.5 961.3,352.0 958.5,354.6 956.1,357.2 953.9,359.8 952.0,362.3 950.5,364.7 949.3,366.7 948.8,367.8"/>
</g>
<g fill="none" stroke="#000" stroke-width="1.9" stroke-linecap="round" stroke-linejoin="round">
<polyline points="947.4,371.7 947.8,370.1 948.6,367.3 949.8,364.0 951.1,360.3 952.7,356.3 954.5,352.2 956.6,348.0 958.7,343.7 961.1,339.3 963.6,334.9 966.3,330.4 969.1,325.8 972.1,321.2 975.2,316.6 978.4,311.9 981.8,307.2 985.3,302.4 988.9,297.6 992.7,292.8 996.5,288.0 1000.5,283.1 1004.6,278.2 1008.9,273.3 1013.2,268.4"/>
<polyline points="949.5,369.3 949.8,368.8 950.5,367.6 951.4,366.2 952.6,364.6 953.9,362.8 955.4,360.9 957.1,359.0 958.9,357.1 960.8,355.1 962.9,353.1 965.1,351.0 967.5,349.0 969.9,346.9 972.5,344.9 975.2,342.8 978.0,340.7 980.9,338.6 983.9,336.5 987.0,334.5 990.2,332.4 993.5,330.3 997.0,328.2 1000.5,326.1 1004.0,324.0"/>
<polyline points="950.6,370.9 950.9,370.6 951.6,370.0 952.5,369.3 953.6,368.4 954.8,367.5 956.2,366.6 957.8,365.7 959.5,364.7 961.4,363.7 963.3,362.7 965.4,361.7 967.6,360.7 970.0,359.7 972.4,358.7 974.9,357.8 977.6,356.8 980.3,355.8 983.2,354.9 986.1,353.9 989.1,352.9 992.3,352.0 995.5,351.0 998.8,350.1 1002.2,349.2"/>
<polyline points="950.6,369.2 950.9,368.9 951.3,368.4 952.0,367.7 952.8,367.0 953.7,366.1 954.7,365.2 955.9,364.3 957.1,363.4 958.5,362.4 959.9,361.5 961.4,360.5 963.1,359.5 964.8,358.6 966.5,357.6 968.4,356.6 970.3,355.6 972.3,354.7 974.4,353.7 976.6,352.7 978.8,351.8 981.1,350.8 983.4,349.9 985.8,348.9 988.3,348.0"/>
<polyline points="949.5,368.6 949.7,368.2 950.1,367.4 950.6,366.3 951.3,365.1 952.1,363.7 953.0,362.2 954.0,360.6 955.1,359.0 956.2,357.4 957.4,355.6 958.8,353.9 960.1,352.1 961.6,350.3 963.1,348.4 964.7,346.6 966.4,344.7 968.1,342.8 969.9,340.9 971.7,339.0 973.7,337.1 975.6,335.1 977.6,333.2 979.7,331.2 981.8,329.3"/>
<polyline points="950.6,368.1 950.8,367.9 951.2,367.4 951.7,366.8 952.3,366.1 953.0,365.3 953.7,364.4 954.6,363.5 955.6,362.5 956.6,361.5 957.7,360.5 958.9,359.5 960.1,358.5 961.4,357.4 962.7,356.4 964.1,355.3 965.6,354.2 967.1,353.2 968.7,352.1 970.4,351.0 972.0,349.9 973.8,348.9 975.6,347.8 977.4,346.7 979.3,345.7"/>
<polyline points="950.6,371.5 950.8,371.4 951.1,371.3 951.4,371.0 951.9,370.7 952.5,370.4 953.1,370.0 953.8,369.7 954.5,369.3 955.3,368.9 956.2,368.5 957.1,368.2 958.1,367.8 959.1,367.4 960.2,367.0 961.3,366.6 962.5,366.2 963.7,365.8 964.9,365.4 966.2,365.1 967.6,364.7 968.9,364.3 970.3,363.9 971.8,363.6 973.3,363.2"/>
<polyline points="950.6,373.3 950.7,373.2 950.9,373.1 951.1,373.0 951.4,372.9 951.8,372.7 952.2,372.5 952.6,372.3 953.1,372.1 953.6,371.9 954.2,371.7 954.7,371.4 955.4,371.2 956.0,371.0 956.7,370.8 957.4,370.5 958.1,370.3 958.9,370.1 959.7,369.8 960.5,369.6 961.3,369.4 962.2,369.2 963.1,368.9 964.0,368.7 965.0,368.5"/>
<polyline points="948.3,371.3 948.5,370.9 948.7,370.1 949.1,369.1 949.6,367.8 950.2,366.4 950.8,364.8 951.5,363.1 952.2,361.3 953.0,359.4 953.9,357.5 954.8,355.4 955.8,353.3 956.8,351.2 957.9,348.9 959.0,346.6 960.2,344.3 961.4,341.9 962.6,339.5 963.9,337.0 965.2,334.5 966.6,331.9 968.0,329.3 969.5,326.7 971.0,324.0"/>
<polyline points="950.6,367.8 950.8,367.5 951.1,367.0 951.6,366.3 952.2,365.5 952.9,364.6 953.6,363.6 954.5,362.6 955.4,361.5 956.4,360.4 957.5,359.2 958.6,358.0 959.8,356.8 961.0,355.6 962.3,354.4 963.7,353.1 965.1,351.9 966.6,350.6 968.1,349.3 969.7,348.0 971.4,346.8 973.0,345.5 974.8,344.2 976.5,342.9 978.4,341.6"/>
<polyline points="950.6,368.2 950.8,367.9 951.1,367.5 951.5,366.9 952.1,366.2 952.7,365.3 953.4,364.5 954.2,363.5 955.0,362.6 955.9,361.5 956.9,360.5 957.9,359.4 959.0,358.4 960.2,357.2 961.4,356.1 962.6,355.0 963.9,353.9 965.3,352.7 966.7,351.5 968.1,350.4 969.6,349.2 971.2,348.0 972.8,346.9 974.4,345.7 976.1,344.5"/>
<polyline points="950.6,368.7 950.8,368.5 951.1,368.1 951.5,367.6 951.9,367.1 952.5,366.4 953.1,365.7 953.8,365.0 954.6,364.2 955.4,363.4 956.3,362.6 957.3,361.8 958.3,360.9 959.3,360.1 960.4,359.2 961.5,358.3 962.7,357.5 963.9,356.6 965.2,355.7 966.5,354.8 967.9,353.9 969.3,353.0 970.7,352.1 972.2,351.2 973.8,350.3"/>
<polyline points="950.6,368.1 950.7,367.9 951.0,367.5 951.3,367.0 951.7,366.4 952.1,365.8 952.6,365.0 953.2,364.2 953.8,363.4 954.5,362.5 955.2,361.6 955.9,360.7 956.7,359.7 957.6,358.7 958.4,357.7 959.3,356.7 960.3,355.6 961.3,354.6 962.3,353.5 963.4,352.4 964.4,351.3 965.6,350.2 966.7,349.1 967.9,348.0 969.1,346.8"/>
<polyline points="949.5,369.8 949.6,369.6 949.8,369.2 950.1,368.5 950.5,367.8 950.9,367.0 951.4,366.1 951.9,365.1 952.5,364.0 953.1,362.9 953.7,361.8 954.4,360.6 955.2,359.3 956.0,358.0 956.8,356.7 957.6,355.4 958.5,354.0 959.5,352.6 960.4,351.2 961.4,349.7 962.4,348.2 963.5,346.7 964.6,345.2 965.7,343.7 966.8,342.1"/>
<polyline points="950.6,370.0 950.8,369.9 951.1,369.6 951.5,369.2 951.9,368.8 952.5,368.3 953.1,367.7 953.8,367.2 954.6,366.6 955.4,365.9 956.3,365.3 957.3,364.7 958.3,364.0 959.3,363.4 960.4,362.7 961.5,362.1 962.7,361.4 963.9,360.8 965.2,360.1 966.5,359.5 967.9,358.8 969.3,358.2 970.7,357.5 972.2,356.8 973.8,356.2"/>
<polyline points="950.6,370.7 950.7,370.6 950.9,370.4 951.2,370.2 951.5,369.9 951.9,369.6 952.4,369.3 952.9,368.9 953.4,368.6 954.0,368.2 954.6,367.8 955.3,367.4 956.0,367.0 956.7,366.6 957.5,366.2 958.3,365.8 959.1,365.4 959.9,364.9 960.8,364.5 961.8,364.1 962.7,363.7 963.7,363.3 964.7,362.9 965.7,362.5 966.8,362.0"/>
<polyline points="950.6,368.5 950.8,368.3 951.2,367.7 951.7,366.9 952.3,366.0 953.1,365.0 953.9,363.9 954.8,362.8 955.8,361.6 956.9,360.3 958.0,359.0 959.3,357.7 960.5,356.3 961.9,354.9 963.3,353.5 964.8,352.1 966.3,350.6 967.9,349.2 969.6,347.7 971.3,346.2 973.1,344.7 974.9,343.2 976.8,341.7 978.7,340.2 980.7,338.6"/>
<polyline points="950.6,368.3 950.8,368.1 951.1,367.7 951.6,367.1 952.1,366.4 952.8,365.7 953.5,364.9 954.3,364.0 955.2,363.2 956.2,362.2 957.2,361.3 958.3,360.4 959.4,359.4 960.6,358.4 961.9,357.4 963.2,356.4 964.5,355.4 965.9,354.4 967.4,353.4 968.9,352.4 970.5,351.4 972.1,350.4 973.8,349.4 975.5,348.4 977.2,347.4"/>
<polyline points="950.6,369.3 950.8,369.1 951.0,368.8 951.4,368.4 951.8,367.9 952.3,367.4 952.9,366.8 953.5,366.1 954.2,365.5 955.0,364.8 955.8,364.1 956.6,363.3 957.5,362.6 958.4,361.8 959.4,361.1 960.4,360.3 961.5,359.5 962.6,358.8 963.8,358.0 964.9,357.2 966.2,356.4 967.4,355.6 968.7,354.8 970.1,354.1 971.4,353.3"/>
<polyline points="949.5,369.8 949.6,369.5 949.9,368.9 950.3,368.1 950.7,367.2 951.3,366.2 951.9,365.0 952.5,363.8 953.3,362.5 954.0,361.1 954.9,359.7 955.8,358.2 956.7,356.7 957.7,355.1 958.7,353.5 959.8,351.8 961.0,350.1 962.1,348.4 963.3,346.7 964.6,344.9 965.9,343.1 967.2,341.3 968.6,339.5 970.0,337.6 971.4,335.7"/>
<polyline points="950.6,370.1 950.8,369.9 951.2,369.5 951.8,369.0 952.5,368.3 953.3,367.7 954.1,367.0 955.1,366.2 956.2,365.5 957.4,364.7 958.6,363.9 959.9,363.1 961.3,362.3 962.8,361.5 964.3,360.7 965.9,359.9 967.5,359.1 969.3,358.3 971.1,357.4 972.9,356.6 974.8,355.8 976.8,355.1 978.8,354.3 980.9,353.5 983.0,352.7"/>
</g>
<g stroke="#000" stroke-width="2.25" fill="none" stroke-linecap="butt">
<path d="M931.1 27.4 V380.7"/>
<path d="M930.0 379.6 h6.5 M930.0 350.3 h6.5 M930.0 321.1 h6.5 M930.0 291.8 h6.5 M930.0 262.6 h6.5 M930.0 233.3 h6.5 M930.0 204.0 h6.5 M930.0 174.8 h6.5 M930.0 145.5 h6.5 M930.0 116.3 h6.5 M930.0 87.0 h6.5 M930.0 57.7 h6.5 M930.0 28.5 h6.5"/>
<path d="M944.9 393.6 H1317.1"/>
<path d="M946.0 394.7 v-6.9 M969.1 394.7 v-6.9 M992.2 394.7 v-6.9 M1015.4 394.7 v-6.9 M1038.5 394.7 v-6.9 M1061.6 394.7 v-6.9 M1084.8 394.7 v-6.9 M1107.9 394.7 v-6.9 M1131.0 394.7 v-6.9 M1154.1 394.7 v-6.9 M1177.2 394.7 v-6.9 M1200.4 394.7 v-6.9 M1223.5 394.7 v-6.9 M1246.6 394.7 v-6.9 M1269.8 394.7 v-6.9 M1292.9 394.7 v-6.9 M1316.0 394.7 v-6.9"/>
</g>
<text x="1131.0" y="33.6" text-anchor="middle" class="ti">Thai seasonally dry forest</text>
<text x="961.8" y="65.2" text-anchor="middle" class="pl">(c)</text>
<text x="1240.1" y="63.3" text-anchor="middle" class="rf">(1476 mm)</text>
<text x="962.2" y="98.9" class="an">NLR–U+</text>
<text x="962.2" y="128.5" class="an">Int.: 1.70 ± 0.19 vs. 1.29 ± 0.09</text>
<text x="962.2" y="157.7" class="an">Slope: 0.52 ± 0.05 vs. 0.58 ± 0.06</text>
<text x="962.2" y="186.7" class="an">T<tspan class="sub" dx="0.5" dy="3.2">10</tspan><tspan dy="-3.2" dx="3.0">:</tspan><tspan dx="8.0">5.6 ± 0.6 vs. 5.6 ± 0.4</tspan></text>
<g fill="none" stroke="#000" stroke-width="1.7" stroke-linecap="round" stroke-dasharray="0.01 6.7">
<polyline points="236.5,629.8 104.6,700.0"/>
<polyline points="376.9,639.7 103.8,771.4"/>
<polyline points="271.4,664.3 103.8,771.4"/>
<polyline points="219.6,650.8 103.8,770.2"/>
<polyline points="196.7,662.5 103.8,772.6"/>
<polyline points="191.0,663.1 103.8,769.1"/>
<polyline points="202.3,692.4 103.8,768.5"/>
<polyline points="224.7,713.5 103.8,770.2"/>
<polyline points="224.7,719.3 103.8,771.4"/>
<polyline points="224.7,724.6 103.8,772.6"/>
<polyline points="329.7,726.9 103.8,774.3"/>
<polyline points="164.1,695.3 103.8,771.4"/>
<polyline points="157.4,707.0 103.8,768.5"/>
<polyline points="206.7,698.2 103.8,770.8"/>
<polyline points="229.8,691.8 107.2,769.1"/>
</g>
<g fill="none" stroke="#000" stroke-width="1.9" stroke-linecap="round" stroke-linejoin="round">
<polyline points="103.5,758.5 164.8,666.1"/>
<polyline points="103.5,769.6 155.1,724.6"/>
<polyline points="103.5,774.9 153.5,749.7"/>
<polyline points="103.5,769.6 133.2,731.0"/>
<polyline points="103.5,760.6 123.2,725.8"/>
<polyline points="103.5,773.7 139.4,751.5"/>
<polyline points="98.5,774.3 111.9,756.2"/>
<polyline points="103.5,776.1 114.7,772.0"/>
<polyline points="103.5,775.5 124.8,766.1"/>
<polyline points="103.5,770.2 135.9,740.4"/>
<polyline points="103.5,773.7 142.4,750.3"/>
<polyline points="103.5,771.4 136.6,748.0"/>
<polyline points="103.5,769.1 127.8,738.6"/>
<polyline points="103.5,772.0 130.4,746.2"/>
<polyline points="103.5,770.8 128.1,749.2"/>
<polyline points="103.5,773.2 125.8,753.8"/>
<polyline points="103.5,772.0 121.1,752.7"/>
<polyline points="103.5,768.5 118.8,748.0"/>
<polyline points="103.5,774.9 125.8,759.7"/>
<polyline points="103.5,775.5 118.8,765.5"/>
<polyline points="103.5,771.4 132.7,743.3"/>
<polyline points="103.5,772.6 129.2,750.9"/>
<polyline points="103.5,773.7 123.4,756.8"/>
<polyline points="103.5,767.9 123.4,742.1"/>
<polyline points="103.5,774.3 135.0,755.0"/>
</g>
<g stroke="#000" stroke-width="2.25" fill="none" stroke-linecap="butt">
<path d="M83.1 430.9 V784.2"/>
<path d="M82.0 783.1 h6.5 M82.0 753.8 h6.5 M82.0 724.6 h6.5 M82.0 695.3 h6.5 M82.0 666.1 h6.5 M82.0 636.8 h6.5 M82.0 607.5 h6.5 M82.0 578.3 h6.5 M82.0 549.0 h6.5 M82.0 519.8 h6.5 M82.0 490.5 h6.5 M82.0 461.2 h6.5 M82.0 432.0 h6.5"/>
<path d="M96.9 797.1 H469.1"/>
<path d="M98.0 798.2 v-6.9 M121.1 798.2 v-6.9 M144.2 798.2 v-6.9 M167.4 798.2 v-6.9 M190.5 798.2 v-6.9 M213.6 798.2 v-6.9 M236.8 798.2 v-6.9 M259.9 798.2 v-6.9 M283.0 798.2 v-6.9 M306.1 798.2 v-6.9 M329.2 798.2 v-6.9 M352.4 798.2 v-6.9 M375.5 798.2 v-6.9 M398.6 798.2 v-6.9 M421.8 798.2 v-6.9 M444.9 798.2 v-6.9 M468.0 798.2 v-6.9"/>
</g>
<text x="76.4" y="790.7" text-anchor="end" class="tk">0</text>
<text x="76.4" y="732.2" text-anchor="end" class="tk">10</text>
<text x="76.4" y="673.7" text-anchor="end" class="tk">20</text>
<text x="76.4" y="615.1" text-anchor="end" class="tk">30</text>
<text x="76.4" y="556.6" text-anchor="end" class="tk">40</text>
<text x="76.4" y="498.1" text-anchor="end" class="tk">50</text>
<text x="76.4" y="439.6" text-anchor="end" class="tk">60</text>
<text x="99.0" y="820.6" text-anchor="middle" class="tk">0</text>
<text x="145.2" y="820.6" text-anchor="middle" class="tk">20</text>
<text x="191.5" y="820.6" text-anchor="middle" class="tk">40</text>
<text x="237.8" y="820.6" text-anchor="middle" class="tk">60</text>
<text x="284.0" y="820.6" text-anchor="middle" class="tk">80</text>
<text x="330.2" y="820.6" text-anchor="middle" class="tk">100</text>
<text x="376.5" y="820.6" text-anchor="middle" class="tk">120</text>
<text x="422.8" y="820.6" text-anchor="middle" class="tk">140</text>
<text x="469.0" y="820.6" text-anchor="middle" class="tk">160</text>
<text x="283.0" y="437.1" text-anchor="middle" class="ti">Brazilian transitional forest</text>
<text x="113.8" y="467.5" text-anchor="middle" class="pl">(d)</text>
<text x="392.1" y="466.8" text-anchor="middle" class="rf">(1800 mm)</text>
<text x="114.2" y="502.4" class="an">LR–U+</text>
<text x="114.2" y="532.0" class="an">Int.: 2.23 ± 0.70 vs. 1.46 ± 0.15</text>
<text x="114.2" y="561.2" class="an">Slope: 0.29 ± 0.03 vs. 0.34 ± 0.04</text>
<text x="114.2" y="590.2" class="an">T<tspan class="sub" dx="0.5" dy="3.2">10</tspan><tspan dy="-3.2" dx="3.0">:</tspan><tspan dx="8.0">5.4 ± 0.8 vs. 5.5 ± 0.4</tspan></text>
<g fill="none" stroke="#000" stroke-width="1.7" stroke-linecap="round" stroke-dasharray="0.01 6.7">
<polyline points="545.1,760.9 683.0,683.0"/>
<polyline points="545.1,762.0 703.3,691.2"/>
<polyline points="545.1,763.2 717.2,692.4"/>
<polyline points="545.1,764.4 720.6,699.4"/>
<polyline points="545.1,767.9 754.2,719.3"/>
<polyline points="545.1,772.6 793.0,736.3"/>
<polyline points="545.1,765.5 734.1,719.9"/>
<polyline points="545.1,766.7 707.0,728.1"/>
<polyline points="545.1,760.3 660.8,710.0"/>
<polyline points="545.1,762.6 672.3,715.8"/>
<polyline points="545.1,765.0 683.9,721.7"/>
<polyline points="545.1,768.5 695.4,731.6"/>
<polyline points="545.1,770.2 660.8,741.0"/>
<polyline points="545.1,771.4 637.6,745.1"/>
<polyline points="545.1,763.8 649.2,725.8"/>
<polyline points="545.1,766.1 626.1,733.4"/>
<polyline points="545.1,769.1 614.5,743.3"/>
<polyline points="545.1,773.7 626.1,753.8"/>
<polyline points="545.1,761.4 637.6,715.8"/>
<polyline points="545.1,767.3 665.4,732.8"/>
<polyline points="545.1,777.2 591.4,767.9"/>
<polyline points="545.1,775.5 602.9,762.0"/>
<polyline points="545.1,774.3 642.2,746.8"/>
<polyline points="545.1,770.8 609.9,750.3"/>
<polyline points="545.1,769.6 633.0,739.8"/>
<polyline points="545.1,767.9 598.3,751.5"/>
<polyline points="545.1,765.5 586.8,750.3"/>
<polyline points="545.1,764.4 605.2,739.8"/>
<polyline points="545.1,763.2 619.1,728.1"/>
<polyline points="545.1,772.0 679.2,733.9"/>
<polyline points="545.1,767.3 653.8,726.9"/>
<polyline points="545.1,776.1 614.5,758.5"/>
</g>
<g fill="none" stroke="#000" stroke-width="1.9" stroke-linecap="round" stroke-linejoin="round">
<polyline points="527.5,763.2 592.5,670.2"/>
<polyline points="528.0,762.9 593.2,724.6"/>
<polyline points="527.1,765.5 547.4,729.3"/>
<polyline points="527.5,773.2 562.0,728.7"/>
<polyline points="527.5,770.2 559.9,740.4"/>
<polyline points="527.5,774.3 575.2,745.1"/>
<polyline points="527.5,776.4 577.5,751.5"/>
<polyline points="527.5,773.7 566.4,750.3"/>
<polyline points="527.5,771.4 560.6,748.0"/>
<polyline points="527.5,776.7 555.1,765.5"/>
<polyline points="527.5,776.7 545.1,771.4"/>
<polyline points="527.5,769.1 551.8,738.6"/>
<polyline points="527.5,769.6 557.8,741.0"/>
<polyline points="527.5,772.0 554.4,746.2"/>
<polyline points="527.5,770.8 552.1,749.2"/>
<polyline points="527.5,773.2 549.8,753.8"/>
<polyline points="527.5,772.0 545.1,752.7"/>
<polyline points="527.5,768.5 542.8,748.0"/>
<polyline points="527.5,774.9 549.8,759.7"/>
<polyline points="527.5,775.5 542.8,765.5"/>
<polyline points="527.5,771.4 556.7,743.3"/>
<polyline points="527.5,772.6 553.2,750.9"/>
<polyline points="527.5,773.7 547.4,756.8"/>
<polyline points="527.5,767.9 547.4,742.1"/>
<polyline points="527.5,774.3 559.0,755.0"/>
<polyline points="527.5,772.6 563.6,744.5"/>
<polyline points="527.5,773.2 561.3,748.0"/>
<polyline points="527.5,774.6 568.2,748.6"/>
</g>
<g stroke="#000" stroke-width="2.25" fill="none" stroke-linecap="butt">
<path d="M507.1 430.9 V784.2"/>
<path d="M506.0 783.1 h6.5 M506.0 753.8 h6.5 M506.0 724.6 h6.5 M506.0 695.3 h6.5 M506.0 666.1 h6.5 M506.0 636.8 h6.5 M506.0 607.5 h6.5 M506.0 578.3 h6.5 M506.0 549.0 h6.5 M506.0 519.8 h6.5 M506.0 490.5 h6.5 M506.0 461.2 h6.5 M506.0 432.0 h6.5"/>
<path d="M520.9 797.1 H893.1"/>
<path d="M522.0 798.2 v-6.9 M545.1 798.2 v-6.9 M568.2 798.2 v-6.9 M591.4 798.2 v-6.9 M614.5 798.2 v-6.9 M637.6 798.2 v-6.9 M660.8 798.2 v-6.9 M683.9 798.2 v-6.9 M707.0 798.2 v-6.9 M730.1 798.2 v-6.9 M753.2 798.2 v-6.9 M776.4 798.2 v-6.9 M799.5 798.2 v-6.9 M822.6 798.2 v-6.9 M845.8 798.2 v-6.9 M868.9 798.2 v-6.9 M892.0 798.2 v-6.9"/>
</g>
<text x="523.0" y="820.6" text-anchor="middle" class="tk">0</text>
<text x="569.2" y="820.6" text-anchor="middle" class="tk">20</text>
<text x="615.5" y="820.6" text-anchor="middle" class="tk">40</text>
<text x="661.8" y="820.6" text-anchor="middle" class="tk">60</text>
<text x="708.0" y="820.6" text-anchor="middle" class="tk">80</text>
<text x="754.2" y="820.6" text-anchor="middle" class="tk">100</text>
<text x="800.5" y="820.6" text-anchor="middle" class="tk">120</text>
<text x="846.8" y="820.6" text-anchor="middle" class="tk">140</text>
<text x="893.0" y="820.6" text-anchor="middle" class="tk">160</text>
<text x="707.0" y="437.1" text-anchor="middle" class="ti">French Guianan moist forest</text>
<text x="537.8" y="467.5" text-anchor="middle" class="pl">(e)</text>
<text x="816.1" y="466.8" text-anchor="middle" class="rf">(2000–4000 mm)</text>
<text x="538.2" y="502.4" class="an">LR–U</text>
<text x="538.2" y="532.0" class="an">Int.: 0.95 ± 0.20 vs. 1.44 ± 0.16</text>
<text x="538.2" y="561.2" class="an">Slope: 0.15 ± 0.01 vs. 0.32 ± 0.04 ***</text>
<text x="538.2" y="590.2" class="an">T<tspan class="sub" dx="0.5" dy="3.2">10</tspan><tspan dy="-3.2" dx="3.0">:</tspan><tspan dx="8.0">2.5 ± 0.1 vs. 4.9 ± 0.4 ***</tspan></text>
<g fill="none" stroke="#000" stroke-width="1.7" stroke-linecap="round" stroke-dasharray="0.01 6.7">
<polyline points="1130.1,682.4 1118.1,686.8 1106.5,691.1 1095.1,695.5 1084.1,699.8 1073.4,704.1 1063.0,708.4 1053.0,712.6 1043.3,716.9 1034.0,721.1 1025.0,725.3 1016.5,729.5 1008.3,733.7 1000.5,737.9 993.1,742.0 986.2,746.1 979.7,750.1 973.6,754.1 968.1,758.1 963.1,762.0 958.7,765.8 954.8,769.4 951.7,772.8 949.4,775.7 948.3,777.4"/>
<polyline points="1313.2,695.3 1289.2,698.7 1265.8,702.1 1243.0,705.5 1220.9,708.9 1199.4,712.3 1178.6,715.7 1158.5,719.2 1139.1,722.6 1120.3,726.1 1102.4,729.6 1085.1,733.1 1068.7,736.6 1053.0,740.2 1038.2,743.7 1024.3,747.3 1011.2,750.9 999.1,754.5 988.0,758.1 978.0,761.8 969.1,765.5 961.4,769.1 955.2,772.8 950.6,776.2 948.3,778.5"/>
<polyline points="1205.7,700.1 1188.8,703.5 1172.2,706.9 1156.2,710.3 1140.6,713.7 1125.4,717.1 1110.7,720.5 1096.5,723.9 1082.8,727.3 1069.6,730.7 1057.0,734.1 1044.8,737.5 1033.2,740.9 1022.2,744.3 1011.7,747.7 1001.9,751.1 992.7,754.5 984.2,757.8 976.3,761.2 969.2,764.5 963.0,767.8 957.6,771.1 953.1,774.2 949.9,777.0 948.3,778.7"/>
<polyline points="1205.7,703.8 1188.8,707.2 1172.2,710.6 1156.2,714.0 1140.6,717.3 1125.4,720.7 1110.7,724.1 1096.5,727.4 1082.8,730.7 1069.6,734.1 1057.0,737.4 1044.8,740.7 1033.2,744.0 1022.2,747.3 1011.7,750.5 1001.9,753.8 992.7,757.0 984.2,760.2 976.3,763.4 969.2,766.5 963.0,769.6 957.6,772.5 953.1,775.4 949.9,777.9 948.3,779.4"/>
<polyline points="1177.4,742.6 1162.3,744.1 1147.6,745.7 1133.3,747.2 1119.4,748.7 1105.9,750.3 1092.9,751.8 1080.2,753.4 1068.1,755.0 1056.3,756.6 1045.0,758.1 1034.2,759.7 1023.9,761.3 1014.1,762.9 1004.8,764.6 996.0,766.2 987.8,767.8 980.2,769.5 973.2,771.1 966.9,772.8 961.3,774.5 956.5,776.1 952.6,777.8 949.7,779.2 948.3,780.2"/>
<polyline points="1050.1,711.1 1043.4,714.2 1036.8,717.3 1030.5,720.4 1024.3,723.4 1018.3,726.5 1012.5,729.5 1006.9,732.6 1001.5,735.6 996.3,738.6 991.3,741.5 986.5,744.5 981.9,747.5 977.5,750.4 973.4,753.3 969.5,756.1 965.9,759.0 962.5,761.8 959.4,764.5 956.6,767.2 954.1,769.8 952.0,772.2 950.2,774.4 948.9,776.3 948.3,777.3"/>
<polyline points="1050.1,716.4 1043.4,719.3 1036.8,722.1 1030.5,725.0 1024.3,727.8 1018.3,730.6 1012.5,733.4 1006.9,736.2 1001.5,739.0 996.3,741.8 991.3,744.6 986.5,747.3 981.9,750.1 977.5,752.8 973.4,755.5 969.5,758.1 965.9,760.7 962.5,763.3 959.4,765.9 956.6,768.3 954.1,770.7 952.0,773.0 950.2,775.1 948.9,776.8 948.3,777.7"/>
<polyline points="1049.6,721.7 1042.9,724.3 1036.4,726.9 1030.1,729.5 1024.0,732.2 1018.0,734.8 1012.2,737.4 1006.6,739.9 1001.3,742.5 996.1,745.1 991.1,747.6 986.3,750.2 981.7,752.7 977.4,755.2 973.3,757.6 969.4,760.1 965.8,762.5 962.4,764.9 959.3,767.2 956.5,769.5 954.1,771.7 951.9,773.8 950.2,775.7 948.9,777.2 948.3,778.1"/>
<polyline points="1091.9,747.8 1082.5,749.0 1073.3,750.1 1064.3,751.3 1055.6,752.5 1047.1,753.7 1038.9,754.9 1031.0,756.2 1023.4,757.4 1016.0,758.7 1008.9,759.9 1002.2,761.2 995.7,762.5 989.5,763.8 983.7,765.2 978.2,766.5 973.1,767.9 968.3,769.3 963.9,770.7 960.0,772.2 956.5,773.6 953.5,775.1 951.0,776.6 949.2,777.9 948.3,778.7"/>
<polyline points="1050.1,735.7 1043.4,737.4 1036.8,739.2 1030.5,740.9 1024.3,742.7 1018.3,744.4 1012.5,746.2 1006.9,748.0 1001.5,749.8 996.3,751.6 991.3,753.4 986.5,755.2 981.9,757.0 977.5,758.8 973.4,760.7 969.5,762.5 965.9,764.4 962.5,766.2 959.4,768.1 956.6,769.9 954.1,771.8 952.0,773.5 950.2,775.2 948.9,776.7 948.3,777.5"/>
<polyline points="1047.8,738.0 1041.2,739.7 1034.8,741.3 1028.6,743.0 1022.6,744.7 1016.7,746.3 1011.1,748.0 1005.6,749.7 1000.3,751.4 995.2,753.1 990.3,754.8 985.6,756.5 981.1,758.3 976.9,760.0 972.8,761.7 969.0,763.5 965.5,765.3 962.2,767.0 959.1,768.8 956.4,770.5 954.0,772.3 951.9,774.0 950.2,775.6 948.9,776.9 948.3,777.7"/>
<polyline points="1038.5,728.1 1032.6,730.3 1026.8,732.5 1021.2,734.7 1015.7,737.0 1010.4,739.2 1005.2,741.4 1000.3,743.6 995.5,745.8 990.8,748.0 986.4,750.2 982.1,752.4 978.1,754.6 974.2,756.8 970.5,758.9 967.1,761.1 963.9,763.3 960.9,765.4 958.1,767.5 955.6,769.6 953.4,771.6 951.5,773.5 950.0,775.2 948.9,776.7 948.3,777.5"/>
</g>
<g fill="none" stroke="#000" stroke-width="1.9" stroke-linecap="round" stroke-linejoin="round">
<polyline points="948.8,772.7 949.2,771.5 950.1,769.4 951.2,766.6 952.7,763.5 954.3,760.1 956.2,756.4 958.3,752.6 960.6,748.7 963.0,744.6 965.6,740.4 968.4,736.1 971.3,731.8 974.4,727.4 977.6,722.9 981.0,718.3 984.5,713.7 988.1,709.1 991.9,704.4 995.8,699.6 999.8,694.8 1004.0,690.0 1008.2,685.1 1012.6,680.1 1017.1,675.2"/>
<polyline points="948.8,776.7 949.2,776.0 950.1,774.8 951.2,773.2 952.7,771.5 954.3,769.6 956.2,767.5 958.3,765.5 960.6,763.3 963.0,761.1 965.6,758.8 968.4,756.6 971.3,754.3 974.4,751.9 977.6,749.5 981.0,747.2 984.5,744.7 988.1,742.3 991.9,739.9 995.8,737.4 999.8,734.9 1004.0,732.4 1008.2,729.9 1012.6,727.4 1017.1,724.9"/>
<polyline points="949.5,777.6 949.8,777.3 950.5,776.7 951.4,775.9 952.5,775.0 953.9,774.1 955.4,773.1 957.0,772.1 958.8,771.0 960.7,770.0 962.8,768.9 965.0,767.8 967.3,766.7 969.8,765.6 972.3,764.5 975.0,763.4 977.8,762.3 980.6,761.1 983.6,760.0 986.7,758.9 989.9,757.8 993.2,756.7 996.5,755.6 1000.0,754.4 1003.6,753.3"/>
<polyline points="949.5,776.6 949.8,776.3 950.4,775.6 951.3,774.7 952.3,773.7 953.5,772.7 954.9,771.5 956.4,770.3 958.0,769.1 959.8,767.9 961.7,766.6 963.7,765.3 965.9,764.0 968.1,762.7 970.5,761.4 972.9,760.1 975.5,758.8 978.1,757.4 980.8,756.1 983.7,754.7 986.6,753.4 989.6,752.0 992.7,750.7 995.9,749.3 999.2,748.0"/>
<polyline points="948.8,775.9 949.0,775.5 949.5,774.7 950.1,773.6 950.9,772.4 951.8,771.0 952.8,769.6 953.9,768.0 955.2,766.4 956.5,764.8 957.9,763.1 959.4,761.4 961.0,759.6 962.6,757.8 964.4,755.9 966.2,754.1 968.1,752.2 970.1,750.3 972.1,748.4 974.2,746.5 976.4,744.5 978.7,742.5 981.0,740.5 983.3,738.5 985.8,736.5"/>
<polyline points="948.8,775.6 949.0,775.3 949.3,774.6 949.8,773.6 950.4,772.5 951.1,771.3 951.9,769.9 952.8,768.5 953.7,767.0 954.7,765.4 955.8,763.8 957.0,762.1 958.2,760.3 959.5,758.5 960.9,756.7 962.3,754.9 963.8,753.0 965.3,751.1 966.9,749.1 968.5,747.1 970.2,745.1 971.9,743.1 973.7,741.0 975.6,739.0 977.5,736.9"/>
<polyline points="949.5,777.3 949.7,777.1 950.0,776.8 950.6,776.4 951.2,776.0 951.9,775.5 952.8,775.0 953.7,774.4 954.7,773.9 955.8,773.3 956.9,772.8 958.2,772.2 959.5,771.6 960.8,771.1 962.3,770.5 963.7,769.9 965.3,769.4 966.9,768.8 968.6,768.3 970.3,767.7 972.1,767.2 973.9,766.6 975.8,766.0 977.8,765.5 979.8,765.0"/>
<polyline points="949.5,778.3 949.6,778.3 949.8,778.1 950.0,778.0 950.4,777.8 950.7,777.5 951.2,777.3 951.6,777.0 952.1,776.8 952.7,776.5 953.3,776.2 953.9,775.9 954.6,775.6 955.3,775.3 956.0,775.0 956.8,774.7 957.6,774.4 958.4,774.1 959.2,773.8 960.1,773.5 961.0,773.2 962.0,772.9 962.9,772.6 963.9,772.3 965.0,772.0"/>
<polyline points="949.0,775.5 949.2,775.2 949.6,774.6 950.1,773.8 950.7,772.9 951.4,771.9 952.2,770.7 953.1,769.5 954.1,768.3 955.1,767.0 956.2,765.7 957.4,764.4 958.7,763.0 960.0,761.6 961.4,760.1 962.9,758.7 964.4,757.2 965.9,755.8 967.5,754.3 969.2,752.8 970.9,751.2 972.7,749.7 974.6,748.2 976.4,746.6 978.4,745.1"/>
<polyline points="949.0,775.8 949.2,775.5 949.5,774.9 950.0,774.2 950.5,773.4 951.2,772.4 952.0,771.4 952.8,770.4 953.7,769.2 954.6,768.1 955.7,766.9 956.8,765.6 957.9,764.4 959.2,763.1 960.4,761.8 961.8,760.5 963.1,759.1 964.6,757.8 966.1,756.4 967.6,755.0 969.2,753.6 970.9,752.2 972.5,750.8 974.3,749.4 976.1,748.0"/>
<polyline points="949.0,776.2 949.2,776.0 949.5,775.5 949.9,774.9 950.4,774.2 951.0,773.5 951.7,772.6 952.5,771.8 953.3,770.8 954.2,769.9 955.1,768.9 956.1,767.9 957.2,766.9 958.3,765.9 959.5,764.8 960.7,763.8 961.9,762.7 963.3,761.6 964.6,760.5 966.0,759.4 967.5,758.3 969.0,757.2 970.5,756.1 972.1,755.0 973.8,753.8"/>
<polyline points="949.0,775.2 949.1,775.0 949.4,774.6 949.7,774.0 950.2,773.3 950.6,772.5 951.2,771.6 951.8,770.6 952.5,769.7 953.2,768.6 954.0,767.6 954.8,766.5 955.6,765.3 956.5,764.2 957.5,763.0 958.5,761.8 959.5,760.6 960.6,759.4 961.7,758.1 962.9,756.8 964.0,755.6 965.3,754.3 966.5,753.0 967.8,751.7 969.1,750.3"/>
<polyline points="949.0,774.8 949.1,774.6 949.3,774.1 949.6,773.5 950.0,772.7 950.5,771.8 950.9,770.9 951.5,769.9 952.1,768.8 952.7,767.6 953.4,766.4 954.1,765.1 954.9,763.8 955.7,762.5 956.5,761.1 957.4,759.7 958.3,758.2 959.3,756.7 960.2,755.2 961.3,753.7 962.3,752.1 963.4,750.5 964.5,748.9 965.6,747.3 966.8,745.6"/>
<polyline points="949.5,776.4 949.6,776.2 949.9,775.9 950.3,775.4 950.8,774.9 951.4,774.3 952.1,773.7 952.9,773.0 953.7,772.3 954.5,771.6 955.5,770.8 956.4,770.1 957.5,769.3 958.6,768.5 959.7,767.8 960.9,767.0 962.2,766.2 963.5,765.4 964.8,764.6 966.2,763.8 967.6,763.0 969.1,762.1 970.6,761.3 972.2,760.5 973.8,759.7"/>
<polyline points="949.5,776.5 949.6,776.4 949.8,776.2 950.1,775.9 950.5,775.6 950.9,775.2 951.4,774.8 951.9,774.3 952.5,773.9 953.1,773.4 953.7,772.9 954.4,772.4 955.2,771.9 956.0,771.4 956.8,770.9 957.6,770.3 958.5,769.8 959.5,769.3 960.4,768.8 961.4,768.2 962.4,767.7 963.5,767.2 964.6,766.6 965.7,766.1 966.8,765.5"/>
<polyline points="949.0,775.7 949.2,775.4 949.6,774.7 950.1,773.8 950.8,772.8 951.6,771.7 952.5,770.5 953.4,769.2 954.5,767.8 955.6,766.4 956.8,765.0 958.1,763.5 959.5,762.0 960.9,760.4 962.4,758.9 963.9,757.3 965.6,755.7 967.3,754.0 969.0,752.4 970.8,750.7 972.7,749.0 974.6,747.3 976.6,745.6 978.6,743.9 980.7,742.1"/>
<polyline points="949.0,776.1 949.2,775.8 949.5,775.3 950.0,774.6 950.6,773.8 951.3,772.9 952.1,772.0 952.9,771.0 953.9,770.0 954.9,768.9 956.0,767.8 957.1,766.7 958.3,765.5 959.6,764.4 960.9,763.2 962.3,762.0 963.8,760.8 965.3,759.6 966.8,758.4 968.4,757.1 970.1,755.9 971.8,754.7 973.6,753.4 975.4,752.2 977.2,750.9"/>
<polyline points="949.5,775.4 949.6,775.3 949.9,774.9 950.3,774.4 950.7,773.8 951.3,773.2 951.9,772.5 952.5,771.8 953.3,771.0 954.0,770.2 954.9,769.4 955.8,768.5 956.7,767.7 957.7,766.8 958.7,765.9 959.8,765.1 961.0,764.2 962.1,763.3 963.3,762.3 964.6,761.4 965.9,760.5 967.2,759.6 968.6,758.6 970.0,757.7 971.4,756.8"/>
<polyline points="949.0,774.8 949.1,774.5 949.4,773.9 949.8,773.1 950.3,772.2 950.8,771.1 951.4,769.9 952.1,768.6 952.9,767.3 953.7,765.9 954.5,764.4 955.4,762.8 956.4,761.2 957.4,759.6 958.5,757.9 959.6,756.2 960.7,754.4 961.9,752.6 963.2,750.8 964.4,748.9 965.8,747.1 967.1,745.1 968.5,743.2 970.0,741.2 971.4,739.2"/>
<polyline points="949.5,776.6 949.7,776.4 950.1,775.9 950.7,775.3 951.4,774.6 952.2,773.9 953.1,773.1 954.1,772.2 955.3,771.4 956.4,770.5 957.7,769.6 959.1,768.7 960.5,767.7 962.0,766.8 963.6,765.8 965.3,764.9 967.0,763.9 968.8,763.0 970.6,762.0 972.5,761.0 974.5,760.1 976.5,759.1 978.6,758.1 980.8,757.2 983.0,756.2"/>
<polyline points="949.2,776.4 949.5,776.1 950.0,775.5 950.7,774.6 951.6,773.6 952.5,772.6 953.7,771.4 954.9,770.2 956.3,769.0 957.7,767.7 959.3,766.4 960.9,765.1 962.7,763.8 964.5,762.4 966.4,761.1 968.4,759.7 970.5,758.3 972.7,756.9 974.9,755.5 977.2,754.0 979.6,752.6 982.1,751.2 984.6,749.7 987.3,748.3 989.9,746.8"/>
<polyline points="949.2,776.6 949.5,776.4 949.9,775.8 950.5,775.1 951.3,774.3 952.2,773.4 953.2,772.5 954.3,771.5 955.5,770.5 956.7,769.5 958.1,768.4 959.6,767.3 961.1,766.3 962.8,765.2 964.5,764.1 966.2,762.9 968.1,761.8 970.0,760.7 972.0,759.5 974.1,758.4 976.2,757.3 978.4,756.1 980.6,755.0 982.9,753.8 985.3,752.7"/>
</g>
<g stroke="#000" stroke-width="2.25" fill="none" stroke-linecap="butt">
<path d="M931.1 430.9 V784.2"/>
<path d="M930.0 783.1 h6.5 M930.0 753.8 h6.5 M930.0 724.6 h6.5 M930.0 695.3 h6.5 M930.0 666.1 h6.5 M930.0 636.8 h6.5 M930.0 607.5 h6.5 M930.0 578.3 h6.5 M930.0 549.0 h6.5 M930.0 519.8 h6.5 M930.0 490.5 h6.5 M930.0 461.2 h6.5 M930.0 432.0 h6.5"/>
<path d="M944.9 797.1 H1317.1"/>
<path d="M946.0 798.2 v-6.9 M969.1 798.2 v-6.9 M992.2 798.2 v-6.9 M1015.4 798.2 v-6.9 M1038.5 798.2 v-6.9 M1061.6 798.2 v-6.9 M1084.8 798.2 v-6.9 M1107.9 798.2 v-6.9 M1131.0 798.2 v-6.9 M1154.1 798.2 v-6.9 M1177.2 798.2 v-6.9 M1200.4 798.2 v-6.9 M1223.5 798.2 v-6.9 M1246.6 798.2 v-6.9 M1269.8 798.2 v-6.9 M1292.9 798.2 v-6.9 M1316.0 798.2 v-6.9"/>
</g>
<text x="947.0" y="820.6" text-anchor="middle" class="tk">0</text>
<text x="993.2" y="820.6" text-anchor="middle" class="tk">20</text>
<text x="1039.5" y="820.6" text-anchor="middle" class="tk">40</text>
<text x="1085.8" y="820.6" text-anchor="middle" class="tk">60</text>
<text x="1132.0" y="820.6" text-anchor="middle" class="tk">80</text>
<text x="1178.2" y="820.6" text-anchor="middle" class="tk">100</text>
<text x="1224.5" y="820.6" text-anchor="middle" class="tk">120</text>
<text x="1270.8" y="820.6" text-anchor="middle" class="tk">140</text>
<text x="1317.0" y="820.6" text-anchor="middle" class="tk">160</text>
<text x="1131.0" y="437.1" text-anchor="middle" class="ti">Bornean wet forest</text>
<text x="961.8" y="467.5" text-anchor="middle" class="pl">(f)</text>
<text x="1240.1" y="466.8" text-anchor="middle" class="rf">(2790 mm)</text>
<text x="962.2" y="502.4" class="an">LR–L</text>
<text x="962.2" y="532.0" class="an">Int.: –1.23 ± 0.05 vs. –0.99 ± 0.03 *</text>
<text x="962.2" y="561.2" class="an">Slope: 0.61 ± 0.04 vs. 0.68 ± 0.03</text>
<text x="962.2" y="590.2" class="an">T<tspan class="sub" dx="0.5" dy="3.2">10</tspan><tspan dy="-3.2" dx="3.0">:</tspan><tspan dx="8.0">3.0 ± 0.3 vs. 4.9 ± 0.4 ***</tspan></text>
<text transform="translate(25.6 579.1) rotate(-90)" class="ax">Estimated bark thickness (mm)</text>
<text x="707" y="867.4" text-anchor="middle" class="ax">Stem diameter (cm)</text>
</svg></body></html>
